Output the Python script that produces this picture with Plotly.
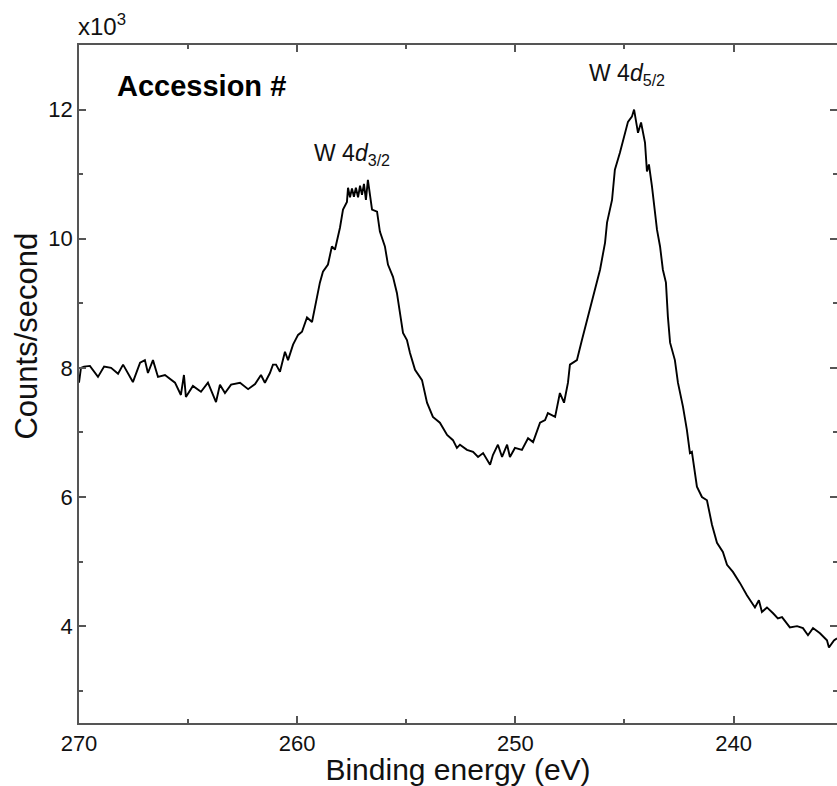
import plotly.graph_objects as go

# Binding energy (eV) and intensity (x10^3 counts/second)
energy = [270.00, 269.91, 269.77, 269.50, 269.13, 268.85, 268.53, 268.21, 267.98, 267.53,
          267.20, 266.98, 266.84, 266.61, 266.38, 266.06, 265.60, 265.33, 265.19, 265.10,
          264.78, 264.41, 264.09, 263.72, 263.54, 263.31, 263.03, 262.62, 262.25, 261.93,
          261.66, 261.48, 261.25, 261.11, 260.97, 260.79, 260.56, 260.42, 260.19, 259.96,
          259.78, 259.55, 259.32, 259.18, 258.96, 258.82, 258.59, 258.41, 258.27, 258.04,
          257.90, 257.72, 257.67, 257.58, 257.49, 257.40, 257.31, 257.21, 257.12, 257.03,
          256.94, 256.85, 256.76, 256.57, 256.34, 256.21, 255.98, 255.84, 255.61, 255.43,
          255.29, 255.15, 254.97, 254.83, 254.60, 254.28, 254.05, 253.78, 253.46, 253.13,
          252.86, 252.68, 252.54, 252.22, 251.94, 251.71, 251.48, 251.30, 251.16, 251.03,
          250.80, 250.61, 250.38, 250.25, 250.02, 249.70, 249.42, 249.19, 248.87, 248.64,
          248.51, 248.18, 247.96, 247.77, 247.59, 247.50, 247.18, 246.95, 246.72, 246.49,
          246.35, 246.12, 245.89, 245.80, 245.57, 245.44, 245.21, 244.98, 244.84, 244.66,
          244.56, 244.38, 244.24, 244.06, 243.97, 243.88, 243.74, 243.51, 243.37, 243.24,
          243.10, 243.01, 242.91, 242.69, 242.55, 242.32, 242.14, 242.00, 241.91, 241.68,
          241.45, 241.22, 240.99, 240.76, 240.49, 240.30, 240.03, 239.71, 239.39, 239.02,
          238.84, 238.70, 238.47, 238.19, 237.97, 237.78, 237.42, 237.09, 236.82, 236.59,
          236.36, 236.04, 235.72, 235.63, 235.40, 235.26]
counts = [7.77, 8.00, 8.02, 8.03, 7.86, 8.02, 8.00, 7.91, 8.05, 7.78,
          8.08, 8.12, 7.92, 8.12, 7.86, 7.89, 7.77, 7.58, 7.89, 7.55,
          7.72, 7.63, 7.77, 7.47, 7.74, 7.61, 7.74, 7.77, 7.67, 7.75,
          7.89, 7.77, 7.92, 8.05, 8.05, 7.94, 8.25, 8.12, 8.36, 8.51,
          8.56, 8.78, 8.71, 8.95, 9.32, 9.49, 9.60, 9.88, 9.83, 10.17,
          10.45, 10.57, 10.79, 10.64, 10.78, 10.65, 10.79, 10.64, 10.82, 10.68,
          10.85, 10.60, 10.91, 10.45, 10.42, 10.11, 9.88, 9.60, 9.41, 9.16,
          8.85, 8.54, 8.43, 8.23, 7.97, 7.81, 7.46, 7.24, 7.15, 6.96,
          6.88, 6.76, 6.81, 6.73, 6.70, 6.62, 6.68, 6.57, 6.50, 6.65,
          6.81, 6.62, 6.81, 6.62, 6.76, 6.73, 6.91, 6.85, 7.15, 7.19,
          7.30, 7.24, 7.61, 7.46, 7.77, 8.05, 8.12, 8.43, 8.74, 9.05,
          9.21, 9.52, 9.94, 10.25, 10.60, 11.07, 11.33, 11.64, 11.81, 11.89,
          12.00, 11.64, 11.80, 11.49, 11.04, 11.15, 10.81, 10.14, 9.88, 9.52,
          9.32, 8.79, 8.39, 8.12, 7.77, 7.40, 7.04, 6.68, 6.70, 6.16,
          6.00, 5.95, 5.57, 5.29, 5.15, 4.95, 4.84, 4.67, 4.48, 4.29,
          4.40, 4.22, 4.29, 4.20, 4.12, 4.14, 3.98, 4.00, 3.97, 3.86,
          3.97, 3.89, 3.78, 3.67, 3.78, 3.81]

x_ticks = [270, 260, 250, 240]
y_ticks = [4, 6, 8, 10, 12]
peak_labels = ["W 4<i>d</i><sub>3/2</sub>", "W 4<i>d</i><sub>5/2</sub>"]
peak_pos = [(257.5, 11.30), (244.9, 12.54)]

FONT = "Arial, Liberation Sans, sans-serif"
AXC = "#555555"
Y_RANGE = [2.5, 13.0]

fig = go.Figure()
fig.add_trace(go.Scatter(x=energy, y=counts, mode="lines",
                         line=dict(color="black", width=1.9), showlegend=False,
                         hoverinfo="skip"))
# same data on the right-hand axis (invisible) so that its inside ticks are drawn
fig.add_trace(go.Scatter(x=energy, y=counts, mode="lines", yaxis="y2",
                         line=dict(color="rgba(0,0,0,0)", width=0), showlegend=False,
                         hoverinfo="skip"))

tick_style = dict(ticks="inside", tickcolor=AXC, tickwidth=1.5, ticklen=7,
                  showgrid=False, zeroline=False,
                  tickfont=dict(family=FONT, size=22, color="#111"))
minor_y = dict(ticks="inside", ticklen=4, tickcolor=AXC, tickwidth=1.5,
               tickvals=[3, 5, 7, 9, 11], showgrid=False)

fig.update_layout(
    xaxis=dict(range=[270, 235.26], tickvals=x_ticks, showline=True, linecolor=AXC,
               linewidth=1.5, mirror="ticks",
               minor=dict(ticks="inside", ticklen=4, tickcolor=AXC, tickwidth=1.5,
                          tickvals=[265, 255, 245, 235], showgrid=False),
               title=dict(text="Binding energy (eV)", standoff=10,
                          font=dict(family=FONT, size=30, color="#111")),
               **tick_style),
    yaxis=dict(range=Y_RANGE, tickvals=y_ticks, showline=True, linecolor=AXC,
               linewidth=1.5, mirror=False, minor=minor_y, **tick_style),
    yaxis2=dict(range=Y_RANGE, tickvals=y_ticks, overlaying="y", side="right",
                showline=False, showticklabels=False, minor=minor_y, **tick_style),
)

# y-axis title (placed slightly above the axis centre, as in the reference)
fig.add_annotation(xref="paper", yref="paper", x=0, xshift=-52, y=0.57,
                   xanchor="center", yanchor="middle", textangle=-90, showarrow=False,
                   text="Counts/second", font=dict(family=FONT, size=31, color="#111"))
fig.add_annotation(xref="paper", yref="paper", x=0, y=1, xshift=-3, yshift=3,
                   xanchor="left", yanchor="bottom", showarrow=False,
                   text="x10<sup>3</sup>", font=dict(family=FONT, size=24, color="#111"))
fig.add_annotation(xref="paper", yref="paper", x=0.047, y=0.94,
                   xanchor="left", yanchor="middle", showarrow=False,
                   text="<b>Accession #</b>", font=dict(family=FONT, size=29, color="black"))
for lab, (px, py) in zip(peak_labels, peak_pos):
    fig.add_annotation(x=px, y=py, xanchor="center", yanchor="middle", showarrow=False,
                       text=lab, font=dict(family=FONT, size=23, color="#111"))

fig.update_layout(width=837, height=786, margin=dict(l=79, r=0, t=45, b=63),
                  paper_bgcolor="white", plot_bgcolor="white")
fig.write_html("out.html")
